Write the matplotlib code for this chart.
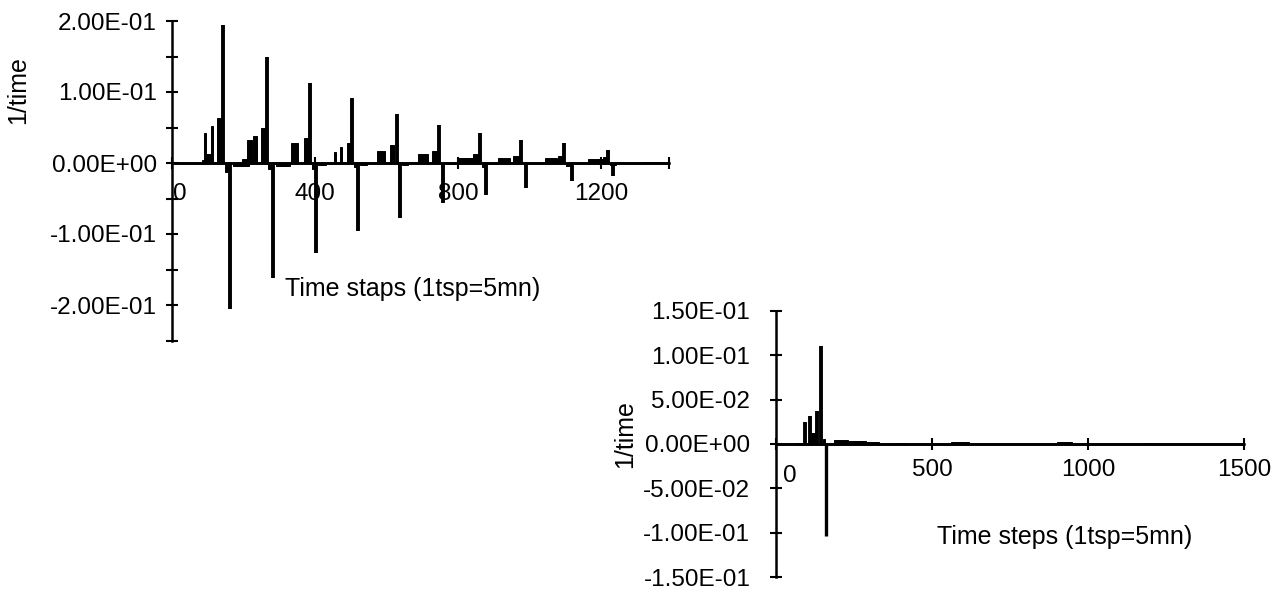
import matplotlib
matplotlib.use("Agg")
import matplotlib.pyplot as plt

plt.rcParams["font.family"] = ["Liberation Sans", "DejaVu Sans"]

# ---- left panel: 10 drying cycles, decaying spikes ----
L_peak_x = [144, 265, 386, 503, 628, 747, 861, 976, 1096, 1220]
L_peak_y = [0.195, 0.150, 0.113, 0.092, 0.069, 0.054, 0.042, 0.033, 0.028, 0.019]
L_dip_x = [163, 284, 402, 521, 638, 759, 878, 991, 1117, 1233]
L_dip_y = [-0.206, -0.162, -0.127, -0.096, -0.077, -0.056, -0.045, -0.035, -0.026, -0.019]

# small blocks before each peak: start, end, height
L_blk_start = [84, 90, 96, 109, 126, 196, 209, 228, 249, 332, 370, 454, 470, 490,
               573, 610, 689, 726, 796, 842, 912, 954, 1043, 1079, 1164, 1206, 1316]
L_blk_end = [90, 95, 109, 114, 142, 209, 223, 237, 261, 354, 382, 460, 477, 502,
             596, 622, 717, 740, 842, 855, 945, 973, 1075, 1091, 1206, 1215, 1363]
L_blk_h = [0.004, 0.042, 0.012, 0.052, 0.063, 0.005, 0.033, 0.038, 0.049, 0.028, 0.035,
           0.016, 0.022, 0.028, 0.017, 0.025, 0.012, 0.017, 0.007, 0.013, 0.007,
           0.010, 0.007, 0.010, 0.006, 0.008, 0.002]

# small negative blocks after each peak
L_neg_start = [148, 170, 270, 290, 392, 408, 510, 526, 632, 644, 752, 768, 868, 886, 1102, 1224]
L_neg_end = [160, 215, 282, 330, 400, 430, 519, 545, 637, 660, 758, 790, 877, 905, 1116, 1240]
L_neg_h = [-0.012, -0.004, -0.008, -0.004, -0.008, -0.003, -0.006, -0.003, -0.006, -0.003,
           -0.005, -0.002, -0.005, -0.002, -0.004, -0.003]

# ---- right panel: single event then flat ----
R_peak_x = [92, 109, 132, 143]
R_peak_y = [0.025, 0.031, 0.037, 0.110]
R_dip_x = [160]
R_dip_y = [-0.104]
R_blk_start = [60, 112, 150, 185, 230, 290, 380, 560, 900, 1180]
R_blk_end = [90, 130, 157, 230, 290, 330, 420, 620, 950, 1220]
R_blk_h = [0.001, 0.012, 0.006, 0.004, 0.003, 0.002, 0.001, 0.002, 0.002, 0.001]

FS = 17.5
W, H = 1284, 592


def px_axes(fig, x0, x1, ytop, ybot):
    return fig.add_axes([x0 / W, 1 - ybot / H, (x1 - x0) / W, (ybot - ytop) / H])


def style(ax, ypad, xpad):
    for s in ("top", "right"):
        ax.spines[s].set_visible(False)
    ax.spines["bottom"].set_position(("data", 0))
    ax.spines["left"].set_linewidth(1.8)
    ax.spines["bottom"].set_linewidth(1.8)
    ax.tick_params(which="both", direction="inout", length=9, width=1.5, labelsize=FS)
    ax.tick_params(axis="y", pad=ypad)
    ax.tick_params(axis="x", pad=xpad)


def blocks(ax, start, end, h):
    ax.bar(start, h, width=[e - s for s, e in zip(start, end)], align="edge",
           color="black", edgecolor="black", linewidth=0.7)


fig = plt.figure(figsize=(12.84, 5.92), dpi=100)
fig.patch.set_facecolor("white")

# left panel
ax1 = px_axes(fig, 171.7, 669.3, 21, 340.5)
ax1.set_xlim(0, 1390)
ax1.set_ylim(-0.25, 0.2)
blocks(ax1, L_blk_start, L_blk_end, L_blk_h)
blocks(ax1, L_neg_start, L_neg_end, L_neg_h)
ax1.vlines(L_peak_x, 0, L_peak_y, color="black", linewidth=2.8)
ax1.vlines(L_dip_x, 0, L_dip_y, color="black", linewidth=2.8)
ax1.axhline(0, color="black", linewidth=2.0)
style(ax1, ypad=6, xpad=10)
ax1.set_yticks([-0.2, -0.1, 0, 0.1, 0.2])
ax1.set_yticklabels([f"{v:.2E}" for v in [-0.2, -0.1, 0, 0.1, 0.2]])
ax1.set_yticks([-0.25, -0.15, -0.05, 0.05, 0.15], minor=True)
ax1.set_xticks([0, 400, 800, 1200])
ax1.set_xticklabels(["", "400", "800", "1200"])
ax1.set_xticks([1390], minor=True)
ax1.annotate("0", xy=(0, 0), xytext=(6, -22), textcoords="offset points",
             ha="center", va="center", fontsize=FS)
fig.text(18.5 / W, 1 - 90 / H, "1/time", rotation=90, ha="center", va="center", fontsize=18)
fig.text(412.5 / W, 1 - 289 / H, "Time staps (1tsp=5mn)", ha="center", va="center", fontsize=18)

# right panel
ax2 = px_axes(fig, 776, 1244, 310.7, 577.3)
ax2.set_xlim(0, 1500)
ax2.set_ylim(-0.15, 0.15)
blocks(ax2, R_blk_start, R_blk_end, R_blk_h)
ax2.vlines(R_peak_x, 0, R_peak_y, color="black", linewidth=2.8)
ax2.vlines(R_dip_x, 0, R_dip_y, color="black", linewidth=2.4)
ax2.axhline(0, color="black", linewidth=2.0)
style(ax2, ypad=14, xpad=6)
r_ticks = [-0.15, -0.1, -0.05, 0, 0.05, 0.1, 0.15]
ax2.set_yticks(r_ticks)
ax2.set_yticklabels([f"{v:.2E}" for v in r_ticks])
ax2.set_xticks([0, 500, 1000, 1500])
ax2.set_xticklabels(["", "500", "1000", "1500"])
ax2.annotate("0", xy=(0, 0), xytext=(10, -23), textcoords="offset points",
             ha="center", va="center", fontsize=FS)
fig.text(625 / W, 1 - 434 / H, "1/time", rotation=90, ha="center", va="center", fontsize=18)
fig.text(1064.5 / W, 1 - 537 / H, "Time steps (1tsp=5mn)", ha="center", va="center", fontsize=18)

fig.savefig("out.png", dpi=100, facecolor="white")
